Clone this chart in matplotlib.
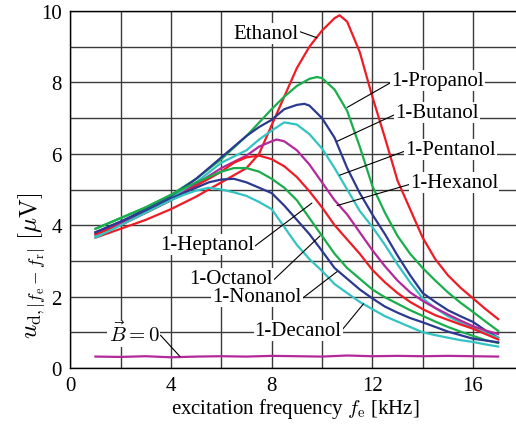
import matplotlib
matplotlib.use("Agg")
import matplotlib.pyplot as plt

plt.rcParams['font.family'] = ['Liberation Serif', 'DejaVu Serif']
plt.rcParams['mathtext.fontset'] = 'cm'

# excitation frequency [kHz] and signal [uV]
x_eth = [1, 2, 3, 4, 5, 6, 6.5, 7, 7.5, 8, 8.5, 9, 9.5, 10, 10.5, 10.7, 11, 11.5, 12, 12.5, 13, 13.5, 14, 14.5, 15, 15.5, 16, 16.5, 17]
y_eth = [3.65, 3.9, 4.15, 4.45, 4.8, 5.2, 5.4, 5.6, 6.0, 6.8, 7.6, 8.4, 9.0, 9.45, 9.8, 9.88, 9.7, 8.85, 7.6, 6.45, 5.25, 4.45, 3.65, 3.05, 2.6, 2.25, 1.95, 1.65, 1.37]

x_pro = [1, 2, 3, 4, 5, 6, 7, 8, 8.5, 9, 9.5, 9.8, 10, 10.5, 11, 11.5, 12, 12.5, 13, 13.5, 14, 14.5, 15, 15.5, 16, 16.5, 17]
y_pro = [3.9, 4.2, 4.5, 4.85, 5.3, 5.85, 6.5, 7.25, 7.6, 7.9, 8.1, 8.15, 8.12, 7.8, 7.2, 6.2, 5.1, 4.35, 3.7, 3.2, 2.8, 2.45, 2.12, 1.83, 1.57, 1.3, 1.04]

x_but = [1, 2, 3, 4, 5, 6, 7, 7.5, 8, 8.5, 9, 9.3, 9.5, 10, 10.5, 11, 11.5, 12, 12.5, 13, 13.5, 14, 14.5, 15, 15.5, 16, 16.5, 17]
y_but = [3.8, 4.1, 4.45, 4.8, 5.3, 5.9, 6.5, 6.75, 6.95, 7.25, 7.37, 7.4, 7.35, 7.0, 6.45, 5.6, 4.9, 4.3, 3.75, 3.15, 2.6, 2.1, 1.85, 1.62, 1.45, 1.29, 1.05, 0.85]

x_pen = [1, 2, 3, 4, 5, 6, 7, 7.5, 8, 8.5, 9, 9.5, 10, 10.5, 11, 11.5, 12, 12.5, 13, 13.5, 14, 14.5, 15, 15.5, 16, 16.5, 17]
y_pen = [3.7, 4.05, 4.4, 4.75, 5.2, 5.75, 6.1, 6.4, 6.65, 6.88, 6.82, 6.55, 6.15, 5.6, 5.0, 4.4, 3.95, 3.45, 2.9, 2.4, 1.95, 1.68, 1.45, 1.27, 1.12, 0.98, 0.85]

x_hex = [1, 2, 3, 4, 5, 6, 7, 7.5, 8, 8.2, 8.5, 9, 9.5, 10, 10.5, 11, 11.5, 12, 12.5, 13, 13.5, 14, 14.5, 15, 15.5, 16, 16.5, 17]
y_hex = [3.75, 4.05, 4.35, 4.7, 5.15, 5.6, 5.95, 6.2, 6.35, 6.4, 6.35, 6.1, 5.7, 5.2, 4.7, 4.3, 3.8, 3.3, 2.85, 2.45, 2.12, 1.88, 1.68, 1.5, 1.33, 1.17, 1.05, 0.95]

x_hep = [1, 2, 3, 4, 5, 6, 6.5, 7, 7.5, 8, 8.5, 9, 9.5, 10, 10.5, 11, 11.5, 12, 12.5, 13, 13.5, 14, 14.5, 15, 15.5, 16, 16.5, 17]
y_hep = [3.75, 4.0, 4.35, 4.7, 5.1, 5.5, 5.75, 5.9, 5.95, 5.85, 5.65, 5.35, 4.95, 4.5, 4.0, 3.6, 3.2, 2.75, 2.4, 2.1, 1.85, 1.65, 1.48, 1.35, 1.22, 1.1, 0.95, 0.8]

x_oct = [1, 2, 3, 4, 5, 6, 6.5, 7, 7.5, 8, 8.5, 9, 9.5, 10, 10.5, 11, 11.5, 12, 12.5, 13, 13.5, 14, 14.5, 15, 15.5, 16, 16.5, 17]
y_oct = [3.9, 4.2, 4.5, 4.85, 5.2, 5.5, 5.6, 5.6, 5.5, 5.3, 5.05, 4.7, 4.2, 3.7, 3.2, 2.8, 2.5, 2.2, 1.98, 1.8, 1.62, 1.46, 1.3, 1.15, 1.02, 0.9, 0.78, 0.7]

x_non = [1, 2, 3, 4, 5, 5.5, 6, 6.5, 7, 7.5, 8, 8.5, 9, 9.5, 10, 10.5, 11, 11.5, 12, 12.5, 13, 13.5, 14, 14.5, 15, 15.5, 16, 16.5, 17]
y_non = [3.8, 4.1, 4.4, 4.75, 5.05, 5.2, 5.28, 5.3, 5.2, 5.05, 4.9, 4.55, 4.15, 3.75, 3.28, 2.8, 2.5, 2.2, 1.95, 1.72, 1.55, 1.4, 1.28, 1.15, 1.02, 0.92, 0.82, 0.77, 0.72]

x_dec = [1, 2, 3, 4, 4.5, 5, 5.5, 6, 6.5, 7, 7.5, 8, 8.5, 9, 9.5, 10, 10.5, 11, 11.5, 12, 12.5, 13, 13.5, 14, 14.5, 15, 15.5, 16, 16.5, 17]
y_dec = [3.65, 4.0, 4.35, 4.7, 4.85, 4.97, 5.05, 5.0, 4.92, 4.82, 4.65, 4.45, 3.95, 3.45, 3.05, 2.72, 2.35, 2.1, 1.85, 1.65, 1.45, 1.3, 1.15, 1.0, 0.92, 0.85, 0.78, 0.73, 0.66, 0.6]

x_b0 = [1, 2, 3, 4, 5, 6, 7, 8, 9, 10, 11, 12, 13, 14, 15, 16, 17]
y_b0 = [0.32, 0.31, 0.33, 0.30, 0.32, 0.33, 0.32, 0.34, 0.33, 0.32, 0.35, 0.33, 0.34, 0.33, 0.34, 0.33, 0.32]

red = '#ee1c25'
green = '#1aad4b'
blue = '#2b3990'
cyan = '#33c3c3'
magenta = '#b3289a'

series = [
    (x_eth, y_eth, red),
    (x_pro, y_pro, green),
    (x_but, y_but, blue),
    (x_pen, y_pen, cyan),
    (x_hex, y_hex, magenta),
    (x_hep, y_hep, red),
    (x_oct, y_oct, green),
    (x_non, y_non, blue),
    (x_dec, y_dec, cyan),
    (x_b0, y_b0, magenta),
]

# label text, text centre, point on curve, side where the leader leaves the text
labels = [
    ('Ethanol', (7.78, 9.38), (9.8, 9.25), (1, 0.6)),
    ('1-Propanol', (14.58, 8.05), (11.0, 7.3), (0, 0.4)),
    ('1-Butanol', (14.58, 7.16), (10.6, 6.35), (0, 0.4)),
    ('1-Pentanol', (15.1, 6.13), (10.7, 5.4), (0, 0.4)),
    ('1-Hexanol', (15.25, 5.2), (10.6, 4.55), (0, 0.4)),
    ('1-Heptanol', (5.43, 3.45), (9.6, 4.62), (1, 0.4)),
    ('1-Octanol', (6.39, 2.5), (9.92, 3.7), (1, 0.4)),
    ('1-Nonanol', (7.42, 1.99), (10.6, 2.7), (1, 0.4)),
    ('1-Decanol', (9.05, 1.05), (11.65, 1.8), (1, 0.5)),
    (r'$\vec{B}=0$', (2.53, 0.95), (4.36, 0.32), (1, 0.5)),
]

fig = plt.figure(figsize=(5.16, 4.27), dpi=100)
# axes run past the right edge of the picture, as in the original crop
ax_w = 25.17 * 18.6
ax = fig.add_axes([70.3 / 516, 58 / 427, ax_w / 516, 357 / 427])

for xs, ys, c in series:
    ax.plot(xs, ys, color=c, lw=1.6, zorder=3)

for txt, pos, pt, rel in labels:
    ax.annotate(txt, xy=pt, xytext=pos, ha='center', va='center', fontsize=15,
                bbox=dict(boxstyle='square,pad=0.05', fc='white', ec='none'),
                arrowprops=dict(arrowstyle='-', lw=0.8, color='k', shrinkA=0, shrinkB=0,
                                relpos=rel),
                zorder=5)

ax.set_xlim(0, 18.6)
ax.set_ylim(0, 10)
ax.set_xticks([0, 4, 8, 12, 16])
ax.set_xticks(range(0, 19, 2), minor=True)
ax.set_yticks([0, 2, 4, 6, 8, 10])
ax.set_yticks(range(0, 11), minor=True)
ax.grid(True, which='both', color='#3a3a3a', lw=1.0, zorder=1)
ax.tick_params(which='both', length=0, labelsize=15, pad=6)
ax.set_axisbelow(True)
for s in ax.spines.values():
    s.set_linewidth(1.0)

ax.set_xlabel(r'excitation frequency $f_\mathrm{e}$ [kHz]', fontsize=15)
ax.xaxis.set_label_coords((295 - 70.3) / ax_w, -0.078)
ax.set_ylabel(r'$u_{\mathrm{d},|f_\mathrm{e}-f_\mathrm{r}|}\ [\mu\mathrm{V}]$', fontsize=18)
ax.yaxis.set_label_coords(-0.047, 0.29)

fig.savefig('out.png', dpi=100)
